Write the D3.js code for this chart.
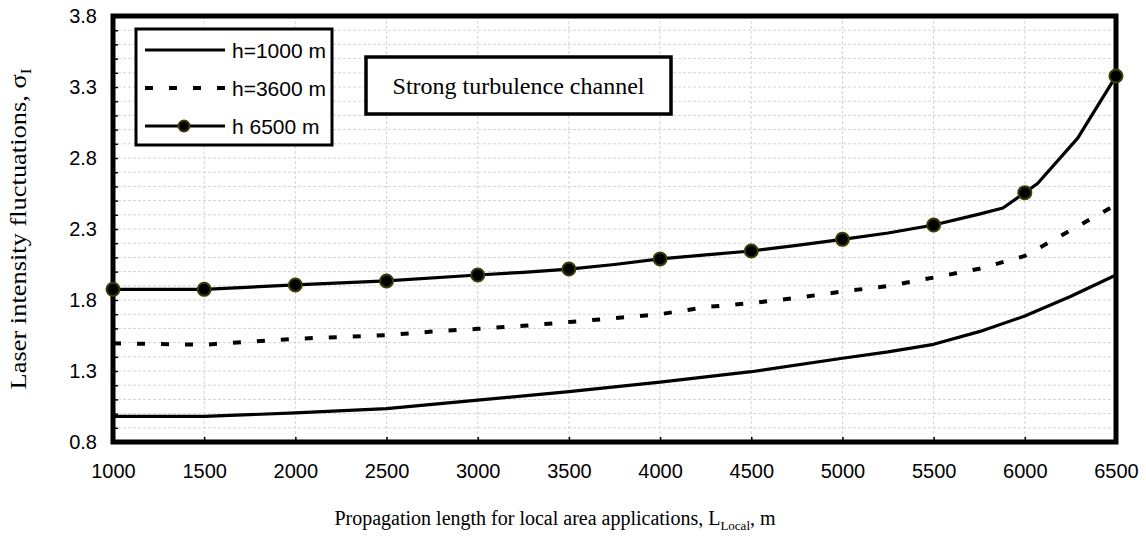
<!DOCTYPE html>
<html>
<head>
<meta charset="utf-8">
<script src="https://cdn.jsdelivr.net/npm/d3@7"></script>
<style>
  body { margin: 0; background: #fff; }
  svg { display: block; }
</style>
</head>
<body>
<svg id="chart" width="1146" height="536"></svg>
<script>
// Tick values of both axes
const lengthTicks = [1000, 1500, 2000, 2500, 3000, 3500, 4000, 4500, 5000, 5500, 6000, 6500];
const sigmaTicks = [0.8, 1.3, 1.8, 2.3, 2.8, 3.3, 3.8];

// h = 1000 m
const lowLength = [1000, 1500, 2000, 2500, 3000, 3500, 4000, 4500, 5000, 5250, 5500, 5750, 6000, 6250, 6500];
const lowSigma  = [0.98, 0.98, 1.005, 1.035, 1.095, 1.155, 1.222, 1.295, 1.39, 1.435, 1.488, 1.577, 1.687, 1.825, 1.976];

// h = 3600 m
const midLength = [1000, 1250, 1500, 1750, 2000, 2250, 2500, 2750, 3000, 3250, 3500, 3750, 4000, 4250, 4500, 4750, 5000, 5250, 5500, 5750, 6000, 6250, 6500];
const midSigma  = [1.495, 1.49, 1.485, 1.507, 1.527, 1.539, 1.552, 1.578, 1.597, 1.618, 1.645, 1.672, 1.70, 1.75, 1.778, 1.815, 1.86, 1.898, 1.958, 2.02, 2.11, 2.29, 2.47];

// h = 6500 m
const highLength = [1000, 1500, 2000, 2500, 3000, 3250, 3500, 3750, 4000, 4250, 4500, 4750, 5000, 5250, 5500, 5750, 5880, 6000, 6070, 6290, 6500];
const highSigma  = [1.875, 1.875, 1.906, 1.934, 1.976, 1.995, 2.018, 2.05, 2.089, 2.118, 2.145, 2.185, 2.227, 2.272, 2.328, 2.405, 2.448, 2.556, 2.62, 2.94, 3.377];

const legendLabels = ["h=1000 m", "h=3600 m", "h 6500 m"];

const svg = d3.select("#chart");
const W = 1146, H = 536;
const margin = { top: 16, right: 30, bottom: 94, left: 113 };
const plotW = W - margin.left - margin.right;
const plotH = H - margin.top - margin.bottom;

const x = d3.scaleLinear().domain([1000, 6500]).range([0, plotW]);
const y = d3.scaleLinear().domain([0.8, 3.8]).range([plotH, 0]);

const g = svg.append("g").attr("transform", `translate(${margin.left},${margin.top})`);

// Grid: vertical at every axis tick, horizontal every 0.1
const minorSigma = d3.range(9, 38).map(v => v / 10);
g.append("g").selectAll("line").data(minorSigma).join("line")
  .attr("x1", 0).attr("x2", plotW)
  .attr("y1", d => y(d)).attr("y2", d => y(d))
  .attr("stroke", "#d4d4d4").attr("stroke-width", 1).attr("stroke-dasharray", "3,2");
g.append("g").selectAll("line").data(lengthTicks.slice(1, -1)).join("line")
  .attr("x1", d => x(d)).attr("x2", d => x(d))
  .attr("y1", 0).attr("y2", plotH)
  .attr("stroke", "#d4d4d4").attr("stroke-width", 1).attr("stroke-dasharray", "3,2");

// Axes with inward tick marks
const xAxis = g.append("g").attr("transform", `translate(0,${plotH})`)
  .call(d3.axisBottom(x).tickValues(lengthTicks).tickSize(-5).tickPadding(22).tickFormat(d3.format("d")));
const yAxis = g.append("g")
  .call(d3.axisLeft(y).tickValues(minorSigma.concat([0.8, 3.8])).tickSize(-5).tickPadding(16)
    .tickFormat(d => sigmaTicks.some(t => Math.abs(t - d) < 1e-9) ? d3.format(".1f")(d) : ""));
[xAxis, yAxis].forEach(a => {
  a.select(".domain").remove();
  a.selectAll(".tick line").attr("stroke", "#000").attr("stroke-width", 1.5);
  a.selectAll("text").attr("fill", "#000")
    .style("font-family", "'Liberation Sans', Arial, sans-serif").style("font-size", "20px");
});

// Plot frame
g.append("rect").attr("x", 0).attr("y", 0).attr("width", plotW).attr("height", plotH)
  .attr("fill", "none").attr("stroke", "#000").attr("stroke-width", 5);

// Curves
const line = d3.line().x(d => x(d[0])).y(d => y(d[1]));
const zip = (a, b) => a.map((v, i) => [v, b[i]]);

g.append("path").datum(zip(lowLength, lowSigma)).attr("d", line)
  .attr("fill", "none").attr("stroke", "#000").attr("stroke-width", 3.2).attr("stroke-linejoin", "round");
g.append("path").datum(zip(midLength, midSigma)).attr("d", line)
  .attr("fill", "none").attr("stroke", "#000").attr("stroke-width", 4).attr("stroke-dasharray", "8,16");
g.append("path").datum(zip(highLength, highSigma)).attr("d", line)
  .attr("fill", "none").attr("stroke", "#000").attr("stroke-width", 3.2).attr("stroke-linejoin", "round");
g.append("g").selectAll("circle").data(zip(highLength, highSigma).filter(d => d[0] % 500 === 0)).join("circle")
  .attr("cx", d => x(d[0])).attr("cy", d => y(d[1])).attr("r", 6.5)
  .attr("fill", "#000").attr("stroke", "#3d3d05").attr("stroke-width", 2);

// Legend
const leg = svg.append("g").attr("transform", "translate(136,29)");
leg.append("rect").attr("width", 196).attr("height", 116)
  .attr("fill", "#fff").attr("stroke", "#000").attr("stroke-width", 3);
const styles = [
  { dash: null, width: 3.2, marker: false },
  { dash: "8,16", width: 4, marker: false },
  { dash: null, width: 3.2, marker: true }
];
legendLabels.forEach((lab, i) => {
  const ly = 21 + i * 38;
  leg.append("line").attr("x1", 9).attr("x2", 89).attr("y1", ly).attr("y2", ly)
    .attr("stroke", "#000").attr("stroke-width", styles[i].width)
    .attr("stroke-dasharray", styles[i].dash);
  if (styles[i].marker) {
    leg.append("circle").attr("cx", 48).attr("cy", ly).attr("r", 5.5)
      .attr("fill", "#000").attr("stroke", "#3d3d05").attr("stroke-width", 2);
  }
  leg.append("text").attr("x", 96).attr("y", ly).attr("dy", "0.36em")
    .style("font-family", "'Liberation Sans', Arial, sans-serif").style("font-size", "21px")
    .text(lab);
});

// Annotation box
const note = svg.append("g").attr("transform", "translate(366,57)");
note.append("rect").attr("width", 305).attr("height", 57)
  .attr("fill", "#fff").attr("stroke", "#000").attr("stroke-width", 3.5);
note.append("text").attr("x", 152.5).attr("y", 28.5).attr("dy", "0.35em").attr("text-anchor", "middle")
  .style("font-family", "'Liberation Serif', 'Times New Roman', serif").style("font-size", "24px")
  .text("Strong turbulence channel");

// Axis titles
const xt = svg.append("text").attr("x", 555).attr("y", 525).attr("text-anchor", "middle")
  .style("font-family", "'Liberation Serif', 'Times New Roman', serif").style("font-size", "20px");
xt.append("tspan").text("Propagation length for local area applications, L");
xt.append("tspan").attr("dy", 5).style("font-size", "13px").text("Local");
xt.append("tspan").attr("dy", -5).text(", m");

const yt = svg.append("text")
  .attr("transform", `translate(26,${margin.top + plotH / 2}) rotate(-90) scale(1.15,1)`)
  .attr("text-anchor", "middle")
  .style("font-family", "'Liberation Serif', 'Times New Roman', serif").style("font-size", "23px");
yt.append("tspan").text("Laser intensity fluctuations, σ");
yt.append("tspan").attr("dy", 5).style("font-size", "15px").text("I");
</script>
</body>
</html>
